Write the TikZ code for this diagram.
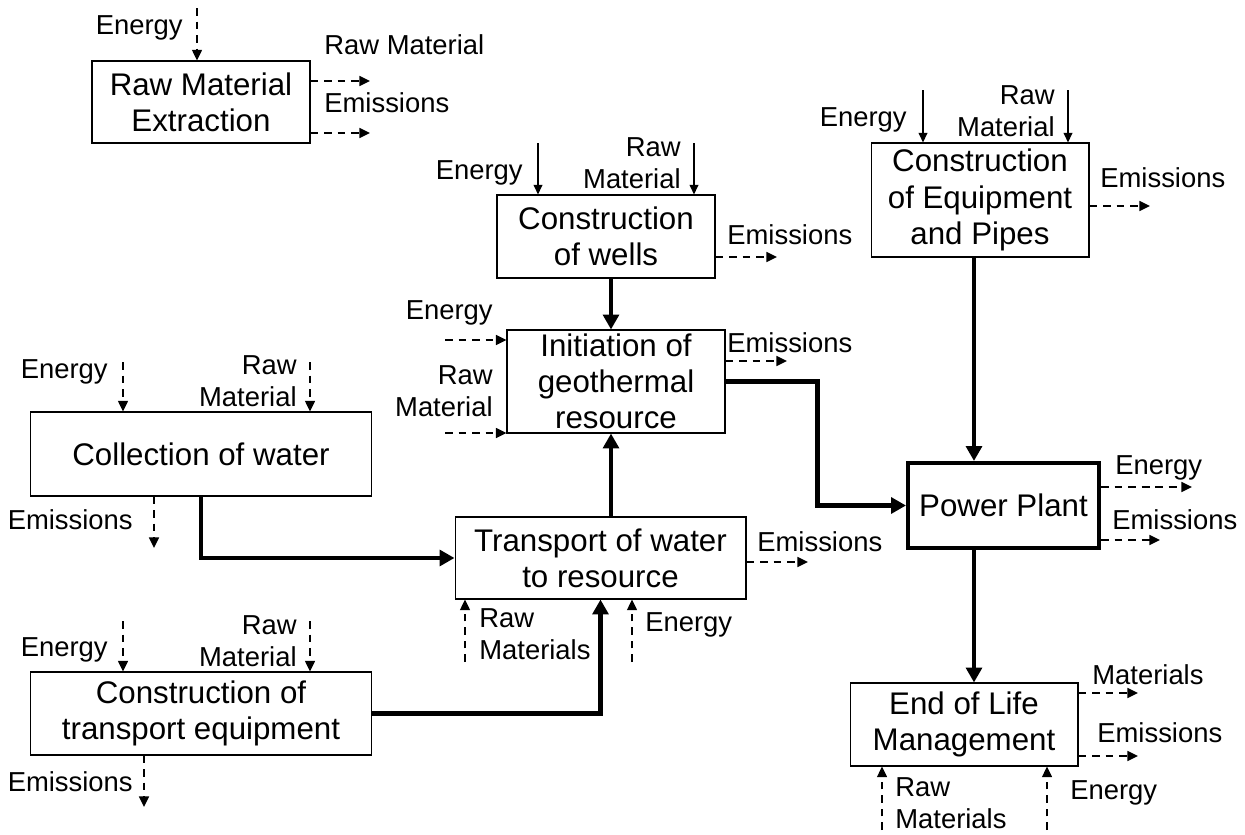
\documentclass[tikz,border=0pt]{standalone}
\usepackage{fontspec}
\setmainfont{Liberation Sans}
\usetikzlibrary{arrows.meta}
\newcommand{\boxfont}{\fontsize{17.8}{20.6}\selectfont}
\newcommand{\lblfont}{\fontsize{15.6}{18.2}\selectfont}

\begin{document}
\begin{tikzpicture}[x=0.02cm, y=-0.02cm,
          box/.style={rectangle, draw, line width=0.6pt, inner sep=1pt,
                      align=center, font=\boxfont},
          lbl/.style={inner sep=0pt, font=\lblfont},
          flow/.style={-{Triangle[length=8.5pt, width=9pt]}, line width=2.8pt},
          sflow/.style={-{Triangle[length=5.5pt, width=5pt]}, line width=0.8pt},
          dflow/.style={-{Triangle[length=6pt, width=5.5pt]}, line width=1.2pt,
                        dash pattern=on 4.5pt off 3.2pt}
        ]
        \useasboundingbox (0,0) rectangle (1245,835);

        % Process boxes
        \node[box, minimum width=4.36cm, minimum height=1.64cm]
              (rme)   at (201,102)   {Raw Material\\Extraction};
        \node[box, minimum width=4.36cm, minimum height=1.66cm]
              (wells) at (606,236.5) {Construction\\of wells};
        \node[box, minimum width=4.36cm, minimum height=2.06cm]
              (init)  at (616,381.5) {Initiation of\\geothermal\\resource};
        \node[box, minimum width=4.36cm, minimum height=2.28cm]
              (equip) at (980,200)   {Construction\\of Equipment\\and Pipes};
        \node[box, line width=2.3pt, minimum width=3.82cm, minimum height=1.70cm]
              (power) at (1003.5,505.5) {Power Plant};
        \node[box, minimum width=6.84cm, minimum height=1.68cm]
              (coll)  at (201,454)   {Collection of water};
        \node[box, minimum width=5.82cm, minimum height=1.64cm]
              (trans) at (600.5,558) {Transport of water\\to resource};
        \node[box, minimum width=6.84cm, minimum height=1.66cm]
              (cte)   at (201,713.5) {Construction of\\transport equipment};
        \node[box, minimum width=4.56cm, minimum height=1.66cm]
              (eol)   at (964,724.5) {End of Life\\Management};

        % Free ends of the side flows
        \coordinate (rmeE)   at (197,8);
        \coordinate (rmeR)   at (370,81);
        \coordinate (rmeM)   at (370,133);
        \coordinate (wellsE) at (538,143);
        \coordinate (wellsR) at (694,143);
        \coordinate (wellsM) at (777,257);
        \coordinate (initE)  at (445,340);
        \coordinate (initR)  at (445,433);
        \coordinate (initM)  at (787,361);
        \coordinate (equipE) at (923,90);
        \coordinate (equipR) at (1068,90);
        \coordinate (equipM) at (1150,206);
        \coordinate (powerE) at (1192,487);
        \coordinate (powerM) at (1160,540);
        \coordinate (collE)  at (123,362);
        \coordinate (collR)  at (310,362);
        \coordinate (collM)  at (154,548);
        \coordinate (transR) at (465,662);
        \coordinate (transE) at (632,662);
        \coordinate (transM) at (808,562);
        \coordinate (cteE)   at (123,621);
        \coordinate (cteR)   at (310,621);
        \coordinate (cteM)   at (144,807);
        \coordinate (eolR)   at (882,830);
        \coordinate (eolE)   at (1047,830);
        \coordinate (eolX)   at (1138,693);
        \coordinate (eolM)   at (1138,756);

        % Main flows
        \draw[flow] ([xshift=0.1cm]wells.south) -- ([xshift=0.1cm]wells.south |- init.north);
        \draw[flow] (init.east) -- ++(92,0) |- (power.west);
        \draw[flow] ([xshift=-0.12cm]equip.south) -- ([xshift=-0.12cm]equip.south |- power.north);
        \draw[flow] ([xshift=-0.12cm]equip.south |- power.south) -- ([xshift=-0.12cm]equip.south |- eol.north);
        \draw[flow] (coll.south) |- (trans.west);
        \draw[flow] ([xshift=0.21cm]trans.north) -- ([xshift=0.21cm]trans.north |- init.south);
        \draw[flow] (cte.east) -| (trans.south);

        % Raw material extraction
        \draw[dflow] (rmeE) -- (rmeE |- rme.north);
        \draw[dflow] (rmeR -| rme.east) -- (rmeR);
        \draw[dflow] (rmeM -| rme.east) -- (rmeM);
        \node[lbl, anchor=east] (rmeEl) at (183,28)  {Energy};
        \node[lbl, anchor=west] (rmeRl) at (324,45)  {Raw Material};
        \node[lbl, anchor=west] (rmeMl) at (324,103) {Emissions};

        % Wells
        \draw[sflow] (wellsE) -- (wellsE |- wells.north);
        \draw[sflow] (wellsR) -- (wellsR |- wells.north);
        \draw[dflow] (wellsM -| wells.east) -- (wellsM);
        \node[lbl, anchor=east] (wellsEl) at (523,173) {Energy};
        \node[lbl, anchor=east, align=right] (wellsRl) at (681,163) {Raw\\Material};
        \node[lbl, anchor=west] (wellsMl) at (727,235) {Emissions};

        % Initiation
        \draw[dflow] (initE) -- (initE -| init.west);
        \draw[dflow] (initR) -- (initR -| init.west);
        \draw[dflow] (initM -| init.east) -- (initM);
        \node[lbl, anchor=east] (initEl) at (493,313) {Energy};
        \node[lbl, anchor=east, align=right] (initRl) at (493,391) {Raw\\Material};
        \node[lbl, anchor=west] (initMl) at (727,343) {Emissions};

        % Equipment and pipes
        \draw[sflow] (equipE) -- (equipE |- equip.north);
        \draw[sflow] (equipR) -- (equipR |- equip.north);
        \draw[dflow] (equipM -| equip.east) -- (equipM);
        \node[lbl, anchor=east] (equipEl) at (907,120) {Energy};
        \node[lbl, anchor=east, align=right] (equipRl) at (1055,111) {Raw\\Material};
        \node[lbl, anchor=west] (equipMl) at (1100,178) {Emissions};

        % Power plant
        \draw[dflow] (powerE -| power.east) -- (powerE);
        \draw[dflow] (powerM -| power.east) -- (powerM);
        \node[lbl, anchor=west] (powerEl) at (1115,468) {Energy};
        \node[lbl, anchor=west] (powerMl) at (1112,520) {Emissions};

        % Collection of water
        \draw[dflow] (collE) -- (collE |- coll.north);
        \draw[dflow] (collR) -- (collR |- coll.north);
        \draw[dflow] (collM |- coll.south) -- (collM);
        \node[lbl, anchor=east] (collEl) at (108,372) {Energy};
        \node[lbl, anchor=east, align=right] (collRl) at (297,381) {Raw\\Material};
        \node[lbl, anchor=east] (collMl) at (133,520) {Emissions};

        % Transport of water
        \draw[dflow] (transR) -- (transR |- trans.south);
        \draw[dflow] (transE) -- (transE |- trans.south);
        \draw[dflow] (transM -| trans.east) -- (transM);
        \node[lbl, anchor=west, align=left] (transRl) at (479,634) {Raw\\Materials};
        \node[lbl, anchor=west] (transEl) at (645,625) {Energy};
        \node[lbl, anchor=west] (transMl) at (757,542) {Emissions};

        % Transport equipment
        \draw[dflow] (cteE) -- (cteE |- cte.north);
        \draw[dflow] (cteR) -- (cteR |- cte.north);
        \draw[dflow] (cteM |- cte.south) -- (cteM);
        \node[lbl, anchor=east] (cteEl) at (108,650) {Energy};
        \node[lbl, anchor=east, align=right] (cteRl) at (297,641) {Raw\\Material};
        \node[lbl, anchor=east] (cteMl) at (133,782) {Emissions};

        % End of life
        \draw[dflow] (eolR) -- (eolR |- eol.south);
        \draw[dflow] (eolE) -- (eolE |- eol.south);
        \draw[dflow] (eolX -| eol.east) -- (eolX);
        \draw[dflow] (eolM -| eol.east) -- (eolM);
        \node[lbl, anchor=west, align=left] (eolRl) at (895,803) {Raw\\Materials};
        \node[lbl, anchor=west] (eolEl) at (1070,793) {Energy};
        \node[lbl, anchor=west] (eolXl) at (1092,675) {Materials};
        \node[lbl, anchor=west] (eolMl) at (1097,733) {Emissions};
      \end{tikzpicture}
\end{document}
